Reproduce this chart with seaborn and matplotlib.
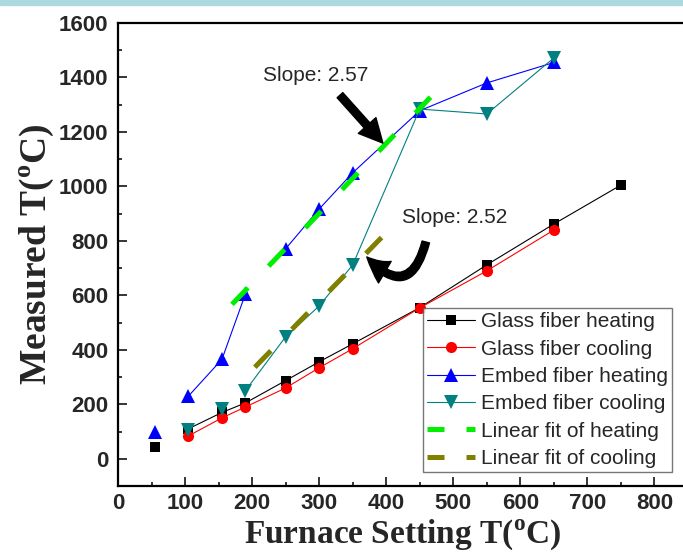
import numpy as np
import pandas as pd
import matplotlib.pyplot as plt
import seaborn as sns
from matplotlib.lines import Line2D
from matplotlib.patches import Rectangle
from matplotlib.ticker import MultipleLocator

# furnace setting (x) and measured temperature (y)
glass_heat_x = [55, 105, 155, 190, 250, 300, 350, 450, 550, 650, 750]
glass_heat_y = [45, 110, 170, 205, 287, 356, 422, 555, 712, 862, 1005]
glass_heat_seg = [0, 1, 1, 1, 1, 1, 1, 1, 1, 1, 1]

glass_cool_x = [105, 155, 190, 250, 300, 350, 450, 550, 650]
glass_cool_y = [84, 150, 190, 260, 334, 404, 554, 690, 840]
glass_cool_seg = [0, 0, 0, 0, 0, 0, 0, 0, 0]

embed_heat_x = [55, 105, 155, 190, 250, 300, 350, 450, 550, 650]
embed_heat_y = [100, 230, 365, 605, 771, 917, 1050, 1278, 1380, 1455]
embed_heat_seg = [0, 1, 1, 1, 2, 2, 2, 2, 2, 2]

embed_cool_x = [105, 155, 190, 250, 300, 350, 450, 550, 650]
embed_cool_y = [105, 183, 250, 448, 561, 712, 1284, 1266, 1472]
embed_cool_seg = [0, 1, 2, 2, 2, 2, 2, 2, 2]

# linear fits
heat_fit_x = [170, 466]
heat_fit_slope, heat_fit_icpt = 2.57, 130
cool_fit_x = [204, 393]
cool_fit_slope, cool_fit_icpt = 2.52, -178

labels = ['Glass fiber heating', 'Glass fiber cooling', 'Embed fiber heating',
          'Embed fiber cooling', 'Linear fit of heating', 'Linear fit of cooling']

sns.set_style('ticks')
plt.rcParams['font.family'] = ['Liberation Sans', 'DejaVu Sans']
plt.rcParams['mathtext.fontset'] = 'custom'
plt.rcParams['mathtext.rm'] = 'Liberation Serif:bold'

fig = plt.figure(figsize=(6.83, 5.6), dpi=100)
ax = fig.add_axes([118 / 683, 74 / 560, 570 / 683, 463 / 560])
fig.patches.append(Rectangle((0, 1 - 5 / 560), 1, 5 / 560, transform=fig.transFigure,
                             color='#add8df', zorder=0))

series = [
    (glass_heat_x, glass_heat_y, glass_heat_seg, 'black', 's', 7.2),
    (glass_cool_x, glass_cool_y, glass_cool_seg, 'red', 'o', 8),
    (embed_heat_x, embed_heat_y, embed_heat_seg, 'blue', '^', 9.5),
    (embed_cool_x, embed_cool_y, embed_cool_seg, '#008080', 'v', 9.5),
]
handles = []
for xs, ys, seg, col, mk, ms in series:
    df = pd.DataFrame({'x': xs, 'y': ys, 'seg': seg})
    sns.lineplot(data=df, x='x', y='y', units='seg', estimator=None, color=col,
                 lw=0.8, marker=mk, markersize=ms, markeredgewidth=0, ax=ax, legend=False)
    handles.append(Line2D([], [], color=col, lw=0.8, marker=mk, markersize=ms, markeredgewidth=0))

for fx, k, b, col in [(heat_fit_x, heat_fit_slope, heat_fit_icpt, '#00ee00'),
                      (cool_fit_x, cool_fit_slope, cool_fit_icpt, '#808000')]:
    fy = [k * v + b for v in fx]
    sns.lineplot(x=fx, y=fy, color=col, lw=3.6, linestyle=(0, (4.6, 6)), ax=ax)
    handles.append(Line2D([], [], color=col, lw=3.6, linestyle=(0, (3.4, 4.4))))

ax.set_xlim(0, 850)
ax.set_ylim(-100, 1600)
ax.xaxis.set_major_locator(MultipleLocator(100))
ax.xaxis.set_minor_locator(MultipleLocator(50))
ax.yaxis.set_major_locator(MultipleLocator(200))
ax.yaxis.set_minor_locator(MultipleLocator(100))
ax.set_yticks(range(0, 1601, 200))
ax.tick_params(which='major', direction='in', length=6.5, width=1.3, labelsize=16)
ax.tick_params(which='minor', direction='in', length=3.2, width=1.3)
ax.tick_params(axis='x', pad=5)
ax.tick_params(axis='y', pad=7)
for t in ax.get_xticklabels() + ax.get_yticklabels():
    t.set_fontweight('bold')
for s in ax.spines.values():
    s.set_linewidth(1.6)
    s.set_color('black')

ax.set_xlabel(r'Furnace Setting T($^{\rm o}$C)', family='Liberation Serif',
              fontweight='bold', fontsize=24, labelpad=2)
ax.set_ylabel(r'Measured T($^{\rm o}$C)', family='Liberation Serif',
              fontweight='bold', fontsize=27, labelpad=2)

ax.text(216, 1409, 'Slope: 2.57', fontsize=15, va='center')
ax.text(423, 887, 'Slope: 2.52', fontsize=15, va='center')

ax.annotate('', xy=(395, 1159), xytext=(331, 1335),
            arrowprops=dict(arrowstyle='simple,head_width=1.7,head_length=1.7,tail_width=0.55',
                            color='black', shrinkA=0, shrinkB=0))
ax.annotate('', xy=(371, 741), xytext=(459, 796),
            arrowprops=dict(arrowstyle='simple,head_width=1.8,head_length=1.7,tail_width=0.55',
                            color='black', shrinkA=0, shrinkB=0,
                            connectionstyle='arc3,rad=-0.9'))

leg = ax.legend(handles, labels, loc='lower right', bbox_to_anchor=(0.972, 0.030),
                borderaxespad=0, fontsize=15, frameon=True, fancybox=False,
                edgecolor='#555555', handlelength=2.3, handletextpad=0.3,
                labelspacing=0.4, borderpad=0.2)
leg.get_frame().set_linewidth(1.0)

fig.savefig('out.png', dpi=100)
